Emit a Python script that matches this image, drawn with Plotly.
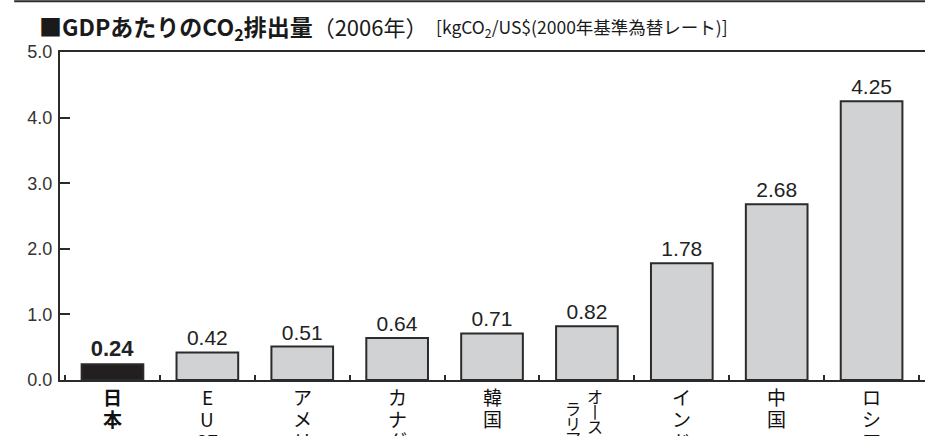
import plotly.graph_objects as go

categories = ["日本", "EU27", "アメリカ", "カナダ", "韓国", "オーストラリア", "インド", "中国", "ロシア"]
values = [0.24, 0.42, 0.51, 0.64, 0.71, 0.82, 1.78, 2.68, 4.25]
# vertical (tategaki) label columns, right column first
label_columns = [
    [["日", "本"]],
    [["E", "U", "27"]],
    [["ア", "メ", "リ", "カ"]],
    [["カ", "ナ", "ダ"]],
    [["韓", "国"]],
    [["オ", "丨", "ス", "ト"], ["ラ", "リ", "ア"]],
    [["イ", "ン", "ド"]],
    [["中", "国"]],
    [["ロ", "シ", "ア"]],
]
y_ticks = [0, 1, 2, 3, 4, 5]

FONT = "Liberation Sans, Arial, Noto Sans CJK JP"
JP = "Noto Sans CJK JP, Liberation Sans"
DARK = "#2b2b2b"

colors = ["#231f20" if i == 0 else "#d1d2d4" for i in range(len(categories))]
texts = [(f"<b>{v:.2f}</b>" if i == 0 else f"{v:.2f}") for i, v in enumerate(values)]
tsize = [22 if i == 0 else 21 for i in range(len(values))]

fig = go.Figure(go.Bar(
    x=categories, y=values,
    width=0.65,
    marker=dict(color=colors, line=dict(color=DARK, width=2)),
    text=texts, textposition="outside", cliponaxis=False,
    textfont=dict(family=FONT, size=tsize, color="#222222"),
))

annotations = []
for i, cat in enumerate(categories):
    cols = label_columns[i]
    for j, col in enumerate(cols):
        if len(cols) == 1:
            xs, start, step, size = 0, -1, 22, 19
        else:
            size, step = 16, 15
            xs, start = (8, -2) if j == 0 else (-14, -14)
        for k, ch in enumerate(col):
            txt = f"<b>{ch}</b>" if i == 0 else ch
            annotations.append(dict(
                x=cat, xref="x", y=0, yref="paper", yanchor="top", xanchor="center",
                xshift=xs, yshift=start - k * step, showarrow=False, text=txt,
                font=dict(family=JP, size=size, color="#111111"),
            ))

annotations.append(dict(
    x=-0.027, xref="paper", y=1.076, yref="paper", xanchor="left", yanchor="middle",
    showarrow=False,
    text="<b>■GDPあたりのCO<sub>2</sub>排出量</b><span style='font-size:22px'>（2006年）</span>",
    font=dict(family=JP, size=23, color="#1a1a1a"),
))
annotations.append(dict(
    x=0.432, xref="paper", y=1.073, yref="paper", xanchor="left", yanchor="middle",
    showarrow=False,
    text="[kgCO<sub>2</sub>/US$(2000年基準為替レート)]",
    font=dict(family=JP, size=17.5, color="#1a1a1a"),
))

fig.update_layout(
    width=925, height=436,
    margin=dict(l=60, r=0, t=52, b=56),
    paper_bgcolor="white", plot_bgcolor="white",
    showlegend=False,
    annotations=annotations,
    shapes=[dict(type="line", xref="paper", yref="paper", x0=-0.053, x1=1.0,
                 y0=1.155, y1=1.155, line=dict(color=DARK, width=2))],
    bargap=0.35,
)
fig.update_xaxes(
    range=[-0.553, 8.563], showline=True, linecolor=DARK, linewidth=2, mirror=True,
    ticks="inside", tickson="boundaries", ticklen=5, tickcolor=DARK, tickwidth=2,
    showticklabels=False, showgrid=False, zeroline=False,
)
fig.update_yaxes(
    range=[0, 5], tickvals=y_ticks, tickformat=".1f", showline=True, linecolor=DARK,
    linewidth=2, ticks="inside", ticklen=10, tickcolor=DARK, tickwidth=1.5,
    tickfont=dict(family=FONT, size=18, color="#333333"),
    showgrid=False, zeroline=False, ticklabelstandoff=2,
)

fig.write_html("out.html")
